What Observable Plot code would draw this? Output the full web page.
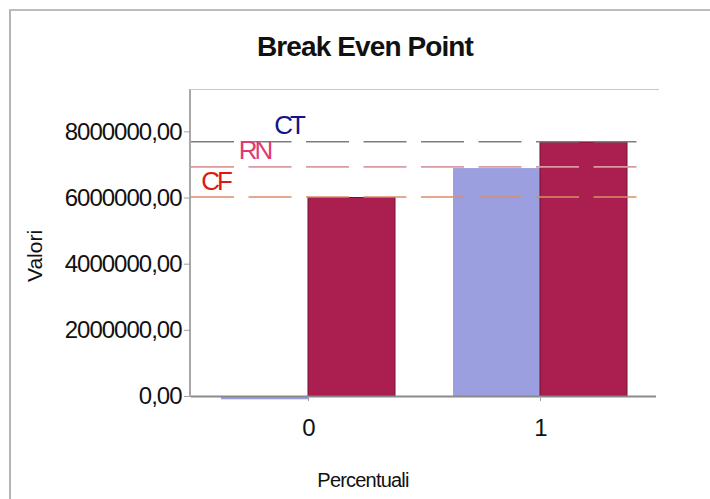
<!DOCTYPE html>
<html>
<head>
<meta charset="utf-8">
<script src="https://cdn.jsdelivr.net/npm/d3@7"></script>
<script src="https://cdn.jsdelivr.net/npm/@observablehq/plot@0.6"></script>
<style>
  html, body { margin: 0; padding: 0; background: #fff; }
  #wrap { position: relative; width: 710px; height: 499px; overflow: hidden; font-family: "Liberation Sans", Arial, sans-serif; }
  .outer { position: absolute; left: 9px; top: 9px; width: 720px; height: 520px; border-left: 2px solid #b4b4b4; border-top: 2px solid #bdbdbd; }
  .pbox { position: absolute; left: 189px; top: 89px; width: 468px; height: 307px; border-left: 2px solid #a8a8a8; border-top: 1.5px solid #c8c8c8; }
  .title { position: absolute; left: 165px; width: 400px; top: 30px; text-align: center; font-weight: bold; font-size: 28px; line-height: 34px; letter-spacing: -0.9px; color: #111; }
  .xlab { position: absolute; left: 263px; width: 200px; top: 467px; text-align: center; font-size: 20px; line-height: 26px; letter-spacing: -0.8px; color: #111; }
  .ylab { position: absolute; left: 35px; top: 256px; transform: translate(-50%, -50%) rotate(-90deg); font-size: 21px; line-height: 24px; color: #111; white-space: nowrap; }
  svg { position: absolute; left: 0; top: 0; }
</style>
</head>
<body>
<div id="wrap">
  <div class="outer"></div>
  <div class="pbox"></div>
  <div class="title">Break Even Point</div>
  <div class="ylab">Valori</div>
  <div class="xlab">Percentuali</div>
</div>
<script>
// Categories (x) and two series
const categories = ["0", "1"];
const seriesBlue = [-100000, 6890000];
const seriesRed = [6000000, 7680000];

// Reference (dashed) lines
const refLabels = ["CT", "RN", "CF"];
const refValues = [7700000, 6940000, 6030000];

// Y-axis ticks
const yTicks = [0, 2000000, 4000000, 6000000, 8000000];
const yTickLabels = ["0,00", "2000000,00", "4000000,00", "6000000,00", "8000000,00"];

const rows = [];
categories.forEach((c, i) => {
  rows.push({cat: c, series: "blue", value: seriesBlue[i]});
  rows.push({cat: c, series: "red", value: seriesRed[i]});
});
const refs = refLabels.map((l, i) => ({label: l, value: refValues[i]}));
const refOf = l => refs.filter(d => d.label === l);

const half = 87;

const chart = Plot.plot({
  width: 710,
  height: 499,
  marginTop: 90,
  marginBottom: 103,
  marginLeft: 191,
  marginRight: 54,
  style: {fontFamily: "'Liberation Sans', Arial, sans-serif", background: "transparent", overflow: "visible", color: "#111"},
  x: {domain: categories, paddingInner: 0.25, paddingOuter: 0.125},
  y: {domain: [0, 9250000]},
  marks: [
    Plot.barY(rows.filter(d => d.series === "blue"), {x: "cat", y: "value", fill: "#9b9fe0", insetRight: half}),
    Plot.barY(rows.filter(d => d.series === "red"), {x: "cat", y: "value", fill: "#ab1f50", stroke: "#6e1232", strokeWidth: 1, insetLeft: half}),
    Plot.ruleY([0], {stroke: "#8a8a8a", strokeWidth: 2}),
    Plot.ruleY(refOf("CT"), {y: "value", stroke: "#7c7c86", strokeWidth: 1.6, strokeDasharray: "43,14.5", insetRight: 16}),
    Plot.ruleY(refOf("RN"), {y: "value", stroke: "#d99aa4", strokeWidth: 1.6, strokeDasharray: "43,14.5", insetRight: 16}),
    Plot.ruleY(refOf("CF"), {y: "value", stroke: "#d99068", strokeWidth: 1.6, strokeDasharray: "43,14.5", insetRight: 16}),
    Plot.text(refOf("CT"), {y: "value", text: "label", frameAnchor: "left", dx: 97, dy: -16, fill: "#12128e", fontSize: 26, textAnchor: "middle", style: "letter-spacing:-3px"}),
    Plot.text(refOf("RN"), {y: "value", text: "label", frameAnchor: "left", dx: 63, dy: -16, fill: "#e23a76", fontSize: 26, textAnchor: "middle"}),
    Plot.text(refOf("CF"), {y: "value", text: "label", frameAnchor: "left", dx: 24, dy: -15, fill: "#dd1a12", fontSize: 26, textAnchor: "middle"}),
    Plot.axisY({ticks: yTicks, tickFormat: d => yTickLabels[yTicks.indexOf(d)], tickSize: 7, tickPadding: 3, fontSize: 24, label: null, stroke: "#a0a0a0"}),
    Plot.axisX({tickSize: 5, tickPadding: 17, fontSize: 24, label: null, stroke: "#a0a0a0"})
  ]
});
chart.setAttribute("letter-spacing", "-1");
d3.select(chart).selectAll("text").filter(function() {
  const t = this.textContent; return t === "CT" || t === "RN" || t === "CF";
}).attr("letter-spacing", "-3");
document.getElementById("wrap").appendChild(chart);
</script>
</body>
</html>
